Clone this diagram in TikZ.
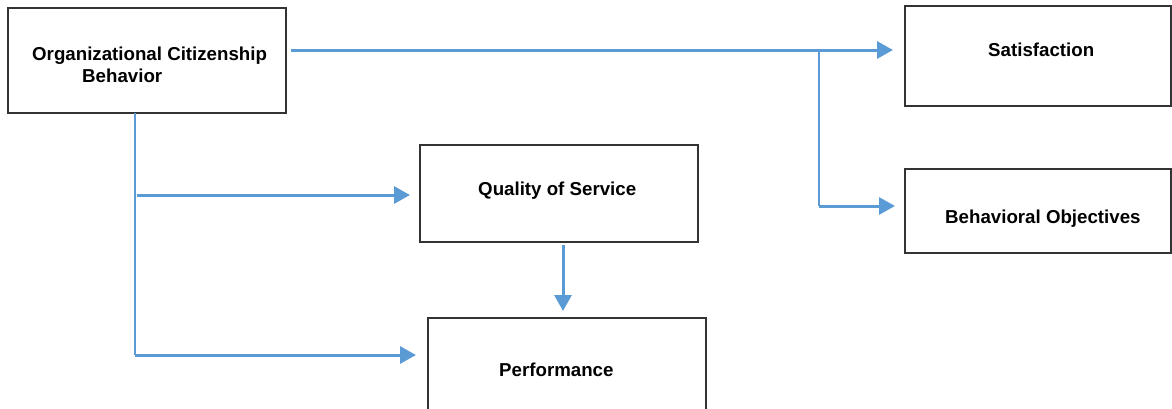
\documentclass[tikz,border=0pt]{standalone}
\usepackage{fontspec}
\setmainfont{Liberation Sans}
\usetikzlibrary{arrows.meta,calc}
\definecolor{flow}{HTML}{5B9BD5}
\definecolor{frame}{HTML}{333333}
\tikzset{
  box/.style={draw=frame, line width=1.6pt, fill=white, rectangle, inner sep=0pt, outer sep=0pt, anchor=north west},
  lbl/.style={inner sep=0pt, anchor=base west, font=\bfseries\fontsize{18.7}{22}\selectfont},
  link/.style={draw=flow, line width=3pt, -{Triangle[length=16pt,width=17pt]}},
  rail/.style={draw=flow, line width=1.9pt},
}
\begin{document}
\begin{tikzpicture}[x=1pt,y=-1pt]
\useasboundingbox (0,0) rectangle (1172,408);
\clip (0,0) rectangle (1172,408);

% boxes
\node[box, minimum width=278pt, minimum height=105pt] (ocb)  at (8,8) {};
\node[box, minimum width=266pt, minimum height=100pt] (sat)  at (905,6) {};
\node[box, minimum width=266pt, minimum height=84pt]  (beh)  at (905,169) {};
\node[box, minimum width=278pt, minimum height=97pt]  (qos)  at (420,145) {};
\node[box, minimum width=278pt, minimum height=110pt] (perf) at (428,318) {};

% labels
\node[lbl] (ocbA) at (32,60)   {Organizational Citizenship};
\node[lbl] (ocbB) at (82,82)   {Behavior};
\node[lbl] (satT) at (988,56.5) {Satisfaction};
\node[lbl] (behT) at (945,223) {Behavioral Objectives};
\node[lbl] (qosT) at (478,195) {Quality of Service};
\node[lbl] (perfT) at (499,376.5) {Performance};

% arrow tips, placed relative to the boxes they point at
\coordinate (s1) at ([shift={(-12,44)}]sat.north west); % Satisfaction
\coordinate (b1) at ([shift={(-10,37)}]beh.north west); % Behavioral Objectives
\coordinate (q1) at ([shift={(-10,50)}]qos.north west); % Quality of Service
\coordinate (p1) at ([shift={(-12,37)}]perf.north west);% Performance
\coordinate (d1) at ([shift={(-4,-7)}]perf.north);      % above Performance

% tails and corners, aligned with the tips
\coordinate (s0) at ([xshift=5]ocb.east |- s1);         % top line start
\coordinate (j1) at ([xshift=-86]sat.west |- s1);       % branch point
\coordinate (j2) at (j1 |- b1);                         % branch corner
\coordinate (v0) at ([xshift=-12]ocb.south);            % left rail top
\coordinate (v1) at (v0 |- p1);                         % left rail bottom
\coordinate (q0) at ([xshift=1.5]v0 |- q1);             % start toward Quality
\coordinate (d0) at ([shift={(0,3)}]qos.south -| d1);   % just below Quality

% connectors
\draw[link] (s0) -- (s1);
\draw[rail] (j1) -- (j2);
\draw[link] (j2) -- (b1);

\draw[rail] (v0) -- (v1);
\draw[link] (q0) -- (q1);
\draw[link] (v1) -- (p1);

\draw[link] (d0) -- (d1);
\end{tikzpicture}
\end{document}
